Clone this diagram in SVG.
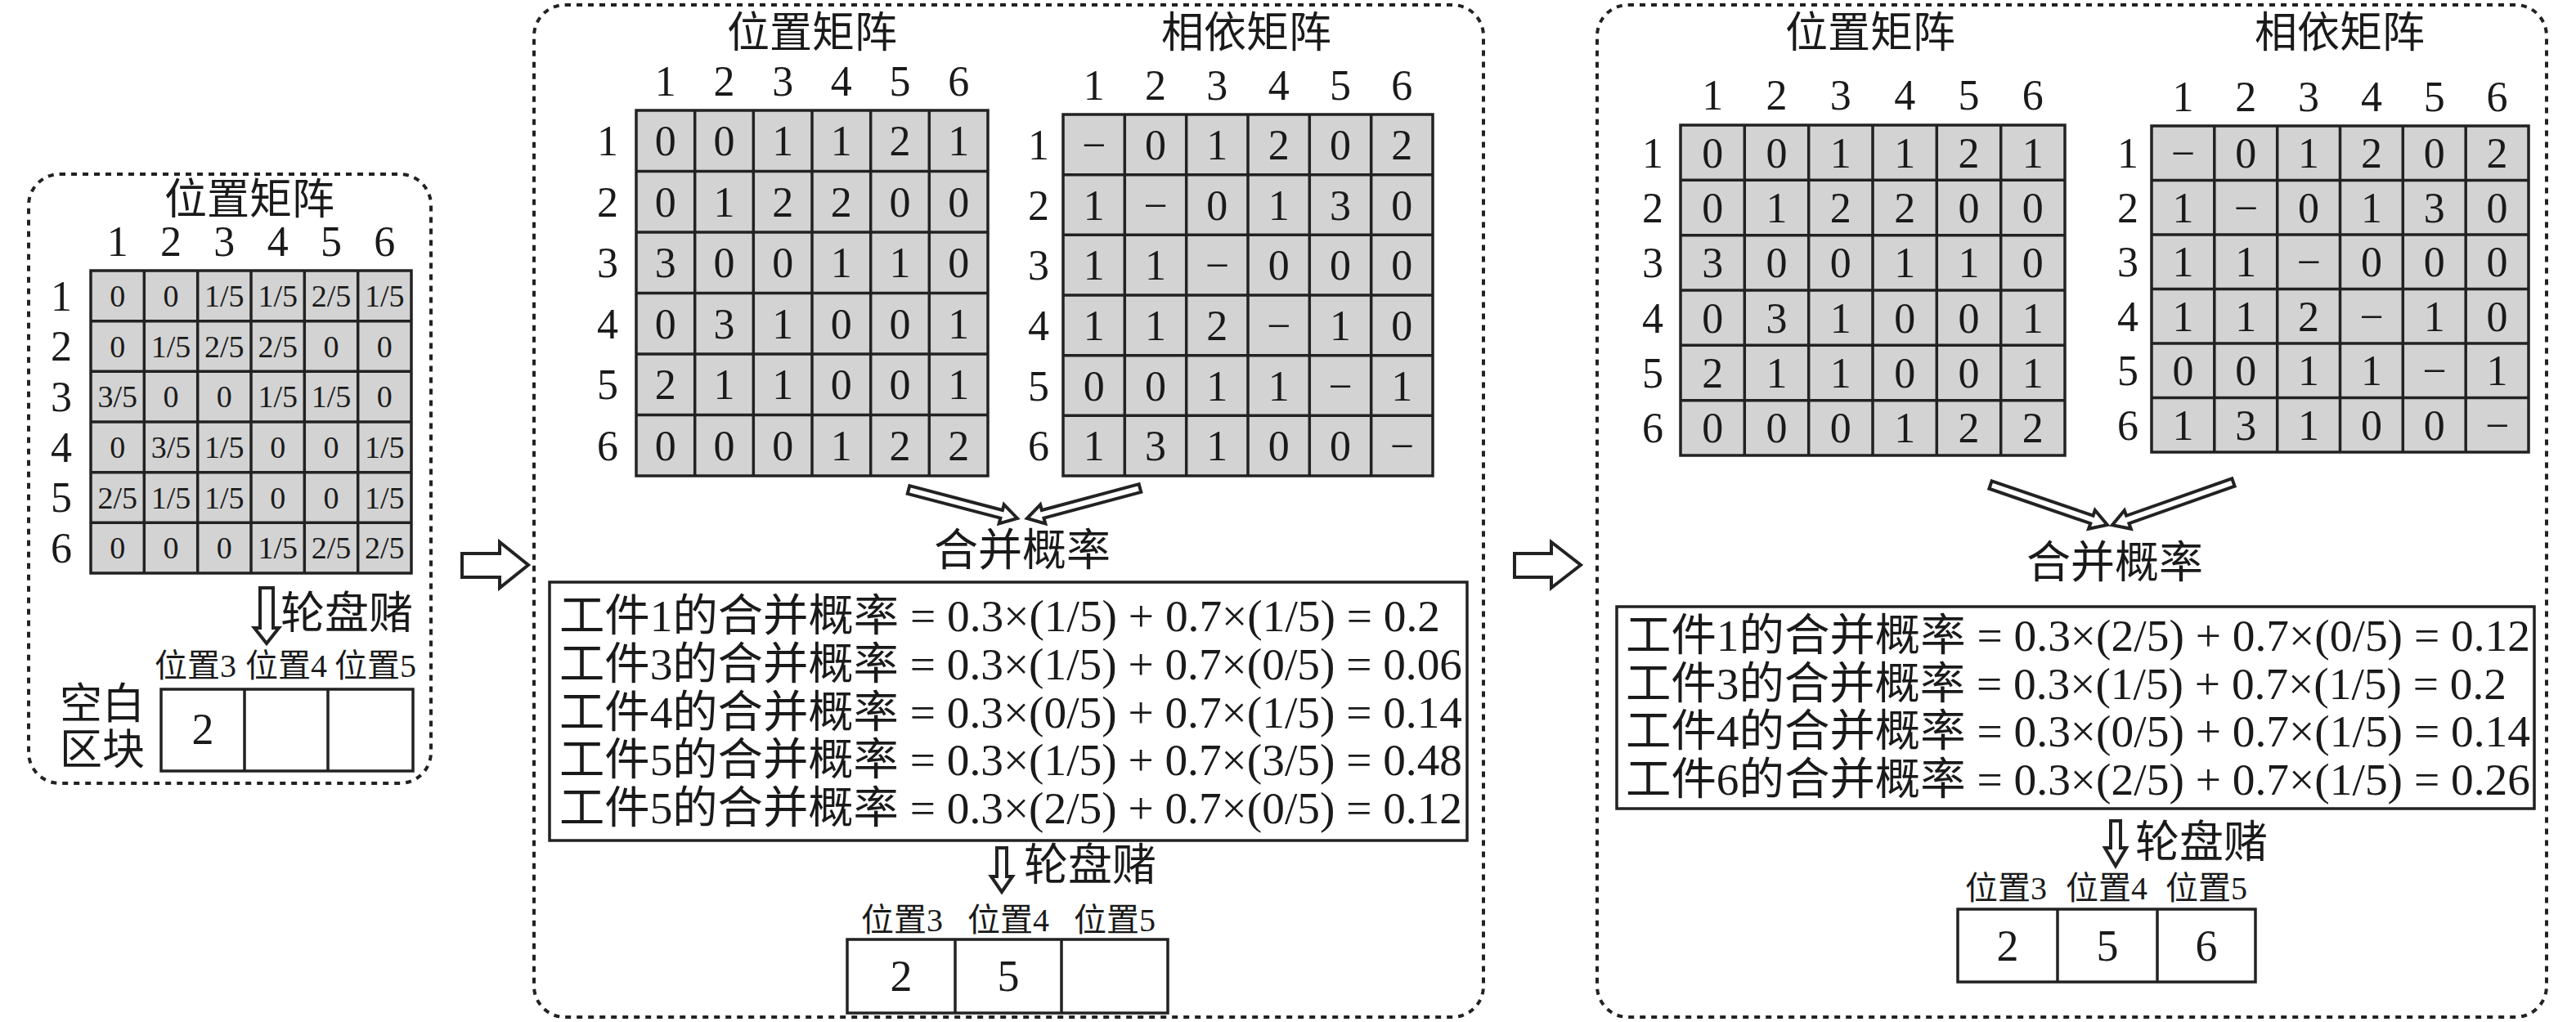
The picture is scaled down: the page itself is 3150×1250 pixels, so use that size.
<svg xmlns="http://www.w3.org/2000/svg" width="3150" height="1250" viewBox="0 0 3150 1250">
<style>
.t{font-family:"Liberation Serif","Noto Sans CJK SC",serif;fill:#1a1a1a}
.c{text-anchor:middle}
.f52{font-size:52px}
.f54{font-size:54px}
.f40{font-size:40px}
.f38{font-size:38px}
.panel{fill:none;stroke:#222;stroke-width:4;stroke-dasharray:7 7}
.grid{fill:#d3d3d3;stroke:#222;stroke-width:3.5}
.gl{fill:none;stroke:#222;stroke-width:3.5}
.box{fill:#fff;stroke:#222;stroke-width:3.5}
.harrow{fill:#fff;stroke:#222;stroke-width:4;stroke-linejoin:miter}
</style>
<rect width="3150" height="1250" fill="#fff"/>

<!-- ================= LEFT PANEL ================= -->
<g id="panel-left">
<rect class="panel" x="35" y="213" width="492" height="745" rx="38"/>
<text class="t c f52" x="305" y="262">位置矩阵</text>
<text class="t c f52" y="313"><tspan x="143.7">1</tspan><tspan x="209">2</tspan><tspan x="274.3">3</tspan><tspan x="339.7">4</tspan><tspan x="405">5</tspan><tspan x="470.3">6</tspan></text>
<g id="left-pos-matrix">
<rect class="grid" x="111" y="331" width="392" height="370"/>
<path class="gl" d="M176.3 331V701M241.7 331V701M307 331V701M372.3 331V701M437.7 331V701M111 392.7H503M111 454.3H503M111 516H503M111 577.7H503M111 639.3H503"/>
<text class="t c f52" x="75" y="380">1</text>
<text class="t c f52" x="75" y="441">2</text>
<text class="t c f52" x="75" y="503">3</text>
<text class="t c f52" x="75" y="565">4</text>
<text class="t c f52" x="75" y="626">5</text>
<text class="t c f52" x="75" y="688">6</text>
<text class="t c f38" y="375"><tspan x="143.7">0</tspan><tspan x="209">0</tspan><tspan x="274.3">1/5</tspan><tspan x="339.7">1/5</tspan><tspan x="405">2/5</tspan><tspan x="470.3">1/5</tspan></text>
<text class="t c f38" y="436.5"><tspan x="143.7">0</tspan><tspan x="209">1/5</tspan><tspan x="274.3">2/5</tspan><tspan x="339.7">2/5</tspan><tspan x="405">0</tspan><tspan x="470.3">0</tspan></text>
<text class="t c f38" y="498"><tspan x="143.7">3/5</tspan><tspan x="209">0</tspan><tspan x="274.3">0</tspan><tspan x="339.7">1/5</tspan><tspan x="405">1/5</tspan><tspan x="470.3">0</tspan></text>
<text class="t c f38" y="560"><tspan x="143.7">0</tspan><tspan x="209">3/5</tspan><tspan x="274.3">1/5</tspan><tspan x="339.7">0</tspan><tspan x="405">0</tspan><tspan x="470.3">1/5</tspan></text>
<text class="t c f38" y="621.5"><tspan x="143.7">2/5</tspan><tspan x="209">1/5</tspan><tspan x="274.3">1/5</tspan><tspan x="339.7">0</tspan><tspan x="405">0</tspan><tspan x="470.3">1/5</tspan></text>
<text class="t c f38" y="683"><tspan x="143.7">0</tspan><tspan x="209">0</tspan><tspan x="274.3">0</tspan><tspan x="339.7">1/5</tspan><tspan x="405">2/5</tspan><tspan x="470.3">2/5</tspan></text>
</g>
<text class="t f54" x="343" y="769">轮盘赌</text>
<text class="t f40" y="828"><tspan x="189">位置3</tspan><tspan x="300">位置4</tspan><tspan x="409">位置5</tspan></text>
<text class="t f52" x="73" y="879">空白</text>
<text class="t f52" x="73" y="935">区块</text>
<g id="left-slots">
<rect class="box" x="197" y="843" width="308" height="100"/>
<path class="gl" d="M299 843V943M401 843V943"/>
<text class="t c f54" x="248" y="910">2</text>
</g>
</g>

<!-- ================= MIDDLE PANEL ================= -->
<g id="panel-middle">
<rect class="panel" x="653" y="6" width="1161" height="1238" rx="38"/>
<text class="t c f52" x="993" y="58">位置矩阵</text>
<text class="t c f52" x="1524" y="58">相依矩阵</text>
<g id="mid-pos-matrix">
<text class="t c f52" y="117"><tspan x="813.8">1</tspan><tspan x="885.5">2</tspan><tspan x="957.2">3</tspan><tspan x="1028.8">4</tspan><tspan x="1100.5">5</tspan><tspan x="1172.2">6</tspan></text>
<rect class="grid" x="778" y="135" width="430" height="447"/>
<path class="gl" d="M849.7 135V582M921.3 135V582M993 135V582M1064.7 135V582M1136.3 135V582M778 209.5H1208M778 284H1208M778 358.5H1208M778 433H1208M778 507.5H1208"/>
<text class="t c f52" x="743" y="190">1</text>
<text class="t c f52" x="743" y="265">2</text>
<text class="t c f52" x="743" y="339">3</text>
<text class="t c f52" x="743" y="414">4</text>
<text class="t c f52" x="743" y="488">5</text>
<text class="t c f52" x="743" y="563">6</text>
<text class="t c f52" y="190"><tspan x="813.8">0</tspan><tspan x="885.5">0</tspan><tspan x="957.2">1</tspan><tspan x="1028.8">1</tspan><tspan x="1100.5">2</tspan><tspan x="1172.2">1</tspan></text>
<text class="t c f52" y="265"><tspan x="813.8">0</tspan><tspan x="885.5">1</tspan><tspan x="957.2">2</tspan><tspan x="1028.8">2</tspan><tspan x="1100.5">0</tspan><tspan x="1172.2">0</tspan></text>
<text class="t c f52" y="339"><tspan x="813.8">3</tspan><tspan x="885.5">0</tspan><tspan x="957.2">0</tspan><tspan x="1028.8">1</tspan><tspan x="1100.5">1</tspan><tspan x="1172.2">0</tspan></text>
<text class="t c f52" y="414"><tspan x="813.8">0</tspan><tspan x="885.5">3</tspan><tspan x="957.2">1</tspan><tspan x="1028.8">0</tspan><tspan x="1100.5">0</tspan><tspan x="1172.2">1</tspan></text>
<text class="t c f52" y="488"><tspan x="813.8">2</tspan><tspan x="885.5">1</tspan><tspan x="957.2">1</tspan><tspan x="1028.8">0</tspan><tspan x="1100.5">0</tspan><tspan x="1172.2">1</tspan></text>
<text class="t c f52" y="563"><tspan x="813.8">0</tspan><tspan x="885.5">0</tspan><tspan x="957.2">0</tspan><tspan x="1028.8">1</tspan><tspan x="1100.5">2</tspan><tspan x="1172.2">2</tspan></text>
</g>
<g id="mid-dep-matrix">
<text class="t c f52" y="122"><tspan x="1337.7">1</tspan><tspan x="1413">2</tspan><tspan x="1488.3">3</tspan><tspan x="1563.7">4</tspan><tspan x="1639">5</tspan><tspan x="1714.3">6</tspan></text>
<rect class="grid" x="1300" y="140" width="452" height="442"/>
<path class="gl" d="M1375.3 140V582M1450.7 140V582M1526 140V582M1601.3 140V582M1676.7 140V582M1300 213.7H1752M1300 287.3H1752M1300 361H1752M1300 434.7H1752M1300 508.3H1752"/>
<text class="t c f52" x="1270" y="195">1</text>
<text class="t c f52" x="1270" y="268.5">2</text>
<text class="t c f52" x="1270" y="342">3</text>
<text class="t c f52" x="1270" y="416">4</text>
<text class="t c f52" x="1270" y="489.5">5</text>
<text class="t c f52" x="1270" y="563">6</text>
<text class="t c f52" y="195"><tspan x="1337.7">−</tspan><tspan x="1413">0</tspan><tspan x="1488.3">1</tspan><tspan x="1563.7">2</tspan><tspan x="1639">0</tspan><tspan x="1714.3">2</tspan></text>
<text class="t c f52" y="268.5"><tspan x="1337.7">1</tspan><tspan x="1413">−</tspan><tspan x="1488.3">0</tspan><tspan x="1563.7">1</tspan><tspan x="1639">3</tspan><tspan x="1714.3">0</tspan></text>
<text class="t c f52" y="342"><tspan x="1337.7">1</tspan><tspan x="1413">1</tspan><tspan x="1488.3">−</tspan><tspan x="1563.7">0</tspan><tspan x="1639">0</tspan><tspan x="1714.3">0</tspan></text>
<text class="t c f52" y="416"><tspan x="1337.7">1</tspan><tspan x="1413">1</tspan><tspan x="1488.3">2</tspan><tspan x="1563.7">−</tspan><tspan x="1639">1</tspan><tspan x="1714.3">0</tspan></text>
<text class="t c f52" y="489.5"><tspan x="1337.7">0</tspan><tspan x="1413">0</tspan><tspan x="1488.3">1</tspan><tspan x="1563.7">1</tspan><tspan x="1639">−</tspan><tspan x="1714.3">1</tspan></text>
<text class="t c f52" y="563"><tspan x="1337.7">1</tspan><tspan x="1413">3</tspan><tspan x="1488.3">1</tspan><tspan x="1563.7">0</tspan><tspan x="1639">0</tspan><tspan x="1714.3">−</tspan></text>
</g>
<text class="t c f54" x="1250" y="692">合并概率</text>
<g id="mid-prob-box">
<rect class="box" x="672" y="712" width="1122" height="316"/>
<text class="t f54" x="684" y="772" textLength="1077" lengthAdjust="spacingAndGlyphs">工件1的合并概率 = 0.3×(1/5) + 0.7×(1/5) = 0.2</text>
<text class="t f54" x="684" y="831" textLength="1104" lengthAdjust="spacingAndGlyphs">工件3的合并概率 = 0.3×(1/5) + 0.7×(0/5) = 0.06</text>
<text class="t f54" x="684" y="890" textLength="1104" lengthAdjust="spacingAndGlyphs">工件4的合并概率 = 0.3×(0/5) + 0.7×(1/5) = 0.14</text>
<text class="t f54" x="684" y="948" textLength="1104" lengthAdjust="spacingAndGlyphs">工件5的合并概率 = 0.3×(1/5) + 0.7×(3/5) = 0.48</text>
<text class="t f54" x="684" y="1007" textLength="1104" lengthAdjust="spacingAndGlyphs">工件5的合并概率 = 0.3×(2/5) + 0.7×(0/5) = 0.12</text>
</g>
<text class="t f54" x="1252" y="1077">轮盘赌</text>
<text class="t f40" y="1139"><tspan x="1053">位置3</tspan><tspan x="1183">位置4</tspan><tspan x="1313">位置5</tspan></text>
<g id="mid-slots">
<rect class="box" x="1036" y="1149" width="392" height="90"/>
<path class="gl" d="M1168 1149V1239M1298 1149V1239"/>
<text class="t c f54" x="1102" y="1212">2</text>
<text class="t c f54" x="1233" y="1212">5</text>
</g>
</g>

<!-- ================= RIGHT PANEL ================= -->
<g id="panel-right">
<rect class="panel" x="1953" y="6" width="1161" height="1238" rx="38"/>
<text class="t c f52" x="2287" y="58">位置矩阵</text>
<text class="t c f52" x="2861" y="58">相依矩阵</text>
<g id="right-pos-matrix">
<text class="t c f52" y="134"><tspan x="2094.2">1</tspan><tspan x="2172.5">2</tspan><tspan x="2250.8">3</tspan><tspan x="2329.2">4</tspan><tspan x="2407.5">5</tspan><tspan x="2485.8">6</tspan></text>
<rect class="grid" x="2055" y="153" width="470" height="404"/>
<path class="gl" d="M2133.3 153V557M2211.7 153V557M2290 153V557M2368.3 153V557M2446.7 153V557M2055 220.3H2525M2055 287.7H2525M2055 355H2525M2055 422.3H2525M2055 489.7H2525"/>
<text class="t c f52" x="2021" y="205">1</text>
<text class="t c f52" x="2021" y="272">2</text>
<text class="t c f52" x="2021" y="339">3</text>
<text class="t c f52" x="2021" y="407">4</text>
<text class="t c f52" x="2021" y="474">5</text>
<text class="t c f52" x="2021" y="541">6</text>
<text class="t c f52" y="205"><tspan x="2094.2">0</tspan><tspan x="2172.5">0</tspan><tspan x="2250.8">1</tspan><tspan x="2329.2">1</tspan><tspan x="2407.5">2</tspan><tspan x="2485.8">1</tspan></text>
<text class="t c f52" y="272"><tspan x="2094.2">0</tspan><tspan x="2172.5">1</tspan><tspan x="2250.8">2</tspan><tspan x="2329.2">2</tspan><tspan x="2407.5">0</tspan><tspan x="2485.8">0</tspan></text>
<text class="t c f52" y="339"><tspan x="2094.2">3</tspan><tspan x="2172.5">0</tspan><tspan x="2250.8">0</tspan><tspan x="2329.2">1</tspan><tspan x="2407.5">1</tspan><tspan x="2485.8">0</tspan></text>
<text class="t c f52" y="407"><tspan x="2094.2">0</tspan><tspan x="2172.5">3</tspan><tspan x="2250.8">1</tspan><tspan x="2329.2">0</tspan><tspan x="2407.5">0</tspan><tspan x="2485.8">1</tspan></text>
<text class="t c f52" y="474"><tspan x="2094.2">2</tspan><tspan x="2172.5">1</tspan><tspan x="2250.8">1</tspan><tspan x="2329.2">0</tspan><tspan x="2407.5">0</tspan><tspan x="2485.8">1</tspan></text>
<text class="t c f52" y="541"><tspan x="2094.2">0</tspan><tspan x="2172.5">0</tspan><tspan x="2250.8">0</tspan><tspan x="2329.2">1</tspan><tspan x="2407.5">2</tspan><tspan x="2485.8">2</tspan></text>
</g>
<g id="right-dep-matrix">
<text class="t c f52" y="136"><tspan x="2669.4">1</tspan><tspan x="2746.3">2</tspan><tspan x="2823.1">3</tspan><tspan x="2899.9">4</tspan><tspan x="2976.8">5</tspan><tspan x="3053.6">6</tspan></text>
<rect class="grid" x="2631" y="154" width="461" height="399"/>
<path class="gl" d="M2707.8 154V553M2784.7 154V553M2861.5 154V553M2938.3 154V553M3015.2 154V553M2631 220.5H3092M2631 287H3092M2631 353.5H3092M2631 420H3092M2631 486.5H3092"/>
<text class="t c f52" x="2602" y="205">1</text>
<text class="t c f52" x="2602" y="272">2</text>
<text class="t c f52" x="2602" y="338">3</text>
<text class="t c f52" x="2602" y="405">4</text>
<text class="t c f52" x="2602" y="471">5</text>
<text class="t c f52" x="2602" y="538">6</text>
<text class="t c f52" y="205"><tspan x="2669.4">−</tspan><tspan x="2746.3">0</tspan><tspan x="2823.1">1</tspan><tspan x="2899.9">2</tspan><tspan x="2976.8">0</tspan><tspan x="3053.6">2</tspan></text>
<text class="t c f52" y="272"><tspan x="2669.4">1</tspan><tspan x="2746.3">−</tspan><tspan x="2823.1">0</tspan><tspan x="2899.9">1</tspan><tspan x="2976.8">3</tspan><tspan x="3053.6">0</tspan></text>
<text class="t c f52" y="338"><tspan x="2669.4">1</tspan><tspan x="2746.3">1</tspan><tspan x="2823.1">−</tspan><tspan x="2899.9">0</tspan><tspan x="2976.8">0</tspan><tspan x="3053.6">0</tspan></text>
<text class="t c f52" y="405"><tspan x="2669.4">1</tspan><tspan x="2746.3">1</tspan><tspan x="2823.1">2</tspan><tspan x="2899.9">−</tspan><tspan x="2976.8">1</tspan><tspan x="3053.6">0</tspan></text>
<text class="t c f52" y="471"><tspan x="2669.4">0</tspan><tspan x="2746.3">0</tspan><tspan x="2823.1">1</tspan><tspan x="2899.9">1</tspan><tspan x="2976.8">−</tspan><tspan x="3053.6">1</tspan></text>
<text class="t c f52" y="538"><tspan x="2669.4">1</tspan><tspan x="2746.3">3</tspan><tspan x="2823.1">1</tspan><tspan x="2899.9">0</tspan><tspan x="2976.8">0</tspan><tspan x="3053.6">−</tspan></text>
</g>
<text class="t c f54" x="2586" y="707">合并概率</text>
<g id="right-prob-box">
<rect class="box" x="1977" y="742" width="1122" height="247"/>
<text class="t f54" x="1988" y="796" textLength="1106" lengthAdjust="spacingAndGlyphs">工件1的合并概率 = 0.3×(2/5) + 0.7×(0/5) = 0.12</text>
<text class="t f54" x="1988" y="855" textLength="1077" lengthAdjust="spacingAndGlyphs">工件3的合并概率 = 0.3×(1/5) + 0.7×(1/5) = 0.2</text>
<text class="t f54" x="1988" y="913" textLength="1106" lengthAdjust="spacingAndGlyphs">工件4的合并概率 = 0.3×(0/5) + 0.7×(1/5) = 0.14</text>
<text class="t f54" x="1988" y="972" textLength="1106" lengthAdjust="spacingAndGlyphs">工件6的合并概率 = 0.3×(2/5) + 0.7×(1/5) = 0.26</text>
</g>
<text class="t f54" x="2611" y="1049">轮盘赌</text>
<text class="t f40" y="1100"><tspan x="2403">位置3</tspan><tspan x="2526">位置4</tspan><tspan x="2648">位置5</tspan></text>
<g id="right-slots">
<rect class="box" x="2394" y="1112" width="364" height="89"/>
<path class="gl" d="M2516 1112V1201M2638 1112V1201"/>
<text class="t c f54" x="2455" y="1175">2</text>
<text class="t c f54" x="2577" y="1175">5</text>
<text class="t c f54" x="2698" y="1175">6</text>
</g>
</g>

<!-- ================= CONNECTORS ================= -->
<g id="connectors">
<polygon class="harrow" points="565,677 611,677 611,663 646,691 611,719 611,706 565,706"/>
<polygon class="harrow" points="1852,677 1897,677 1897,663 1933,691 1897,719 1897,706 1852,706"/>
<polygon class="harrow" transform="translate(1111,599) rotate(14.7)" points="0,-5 117.5,-5 117.5,-12 137.5,0 117.5,12 117.5,5 0,5"/>
<polygon class="harrow" transform="translate(1394,597) rotate(165)" points="0,-5 123,-5 123,-12 143,0 123,12 123,5 0,5"/>
<polygon class="harrow" transform="translate(2434,593) rotate(18.9)" points="0,-5 131,-5 131,-12 151,0 131,12 131,5 0,5"/>
<polygon class="harrow" transform="translate(2731,590) rotate(160.6)" points="0,-5 137,-5 137,-12 157,0 137,12 137,5 0,5"/>
<polygon class="harrow" points="318,719 334,719 334,768 341,768 326,787 311,768 318,768"/>
<polygon class="harrow" points="1219,1037 1231,1037 1231,1072 1238,1072 1225,1091 1212,1072 1219,1072"/>
<polygon class="harrow" points="2581,1004 2593,1004 2593,1037 2600,1037 2587,1059 2574,1037 2581,1037"/>
</g>
</svg>
